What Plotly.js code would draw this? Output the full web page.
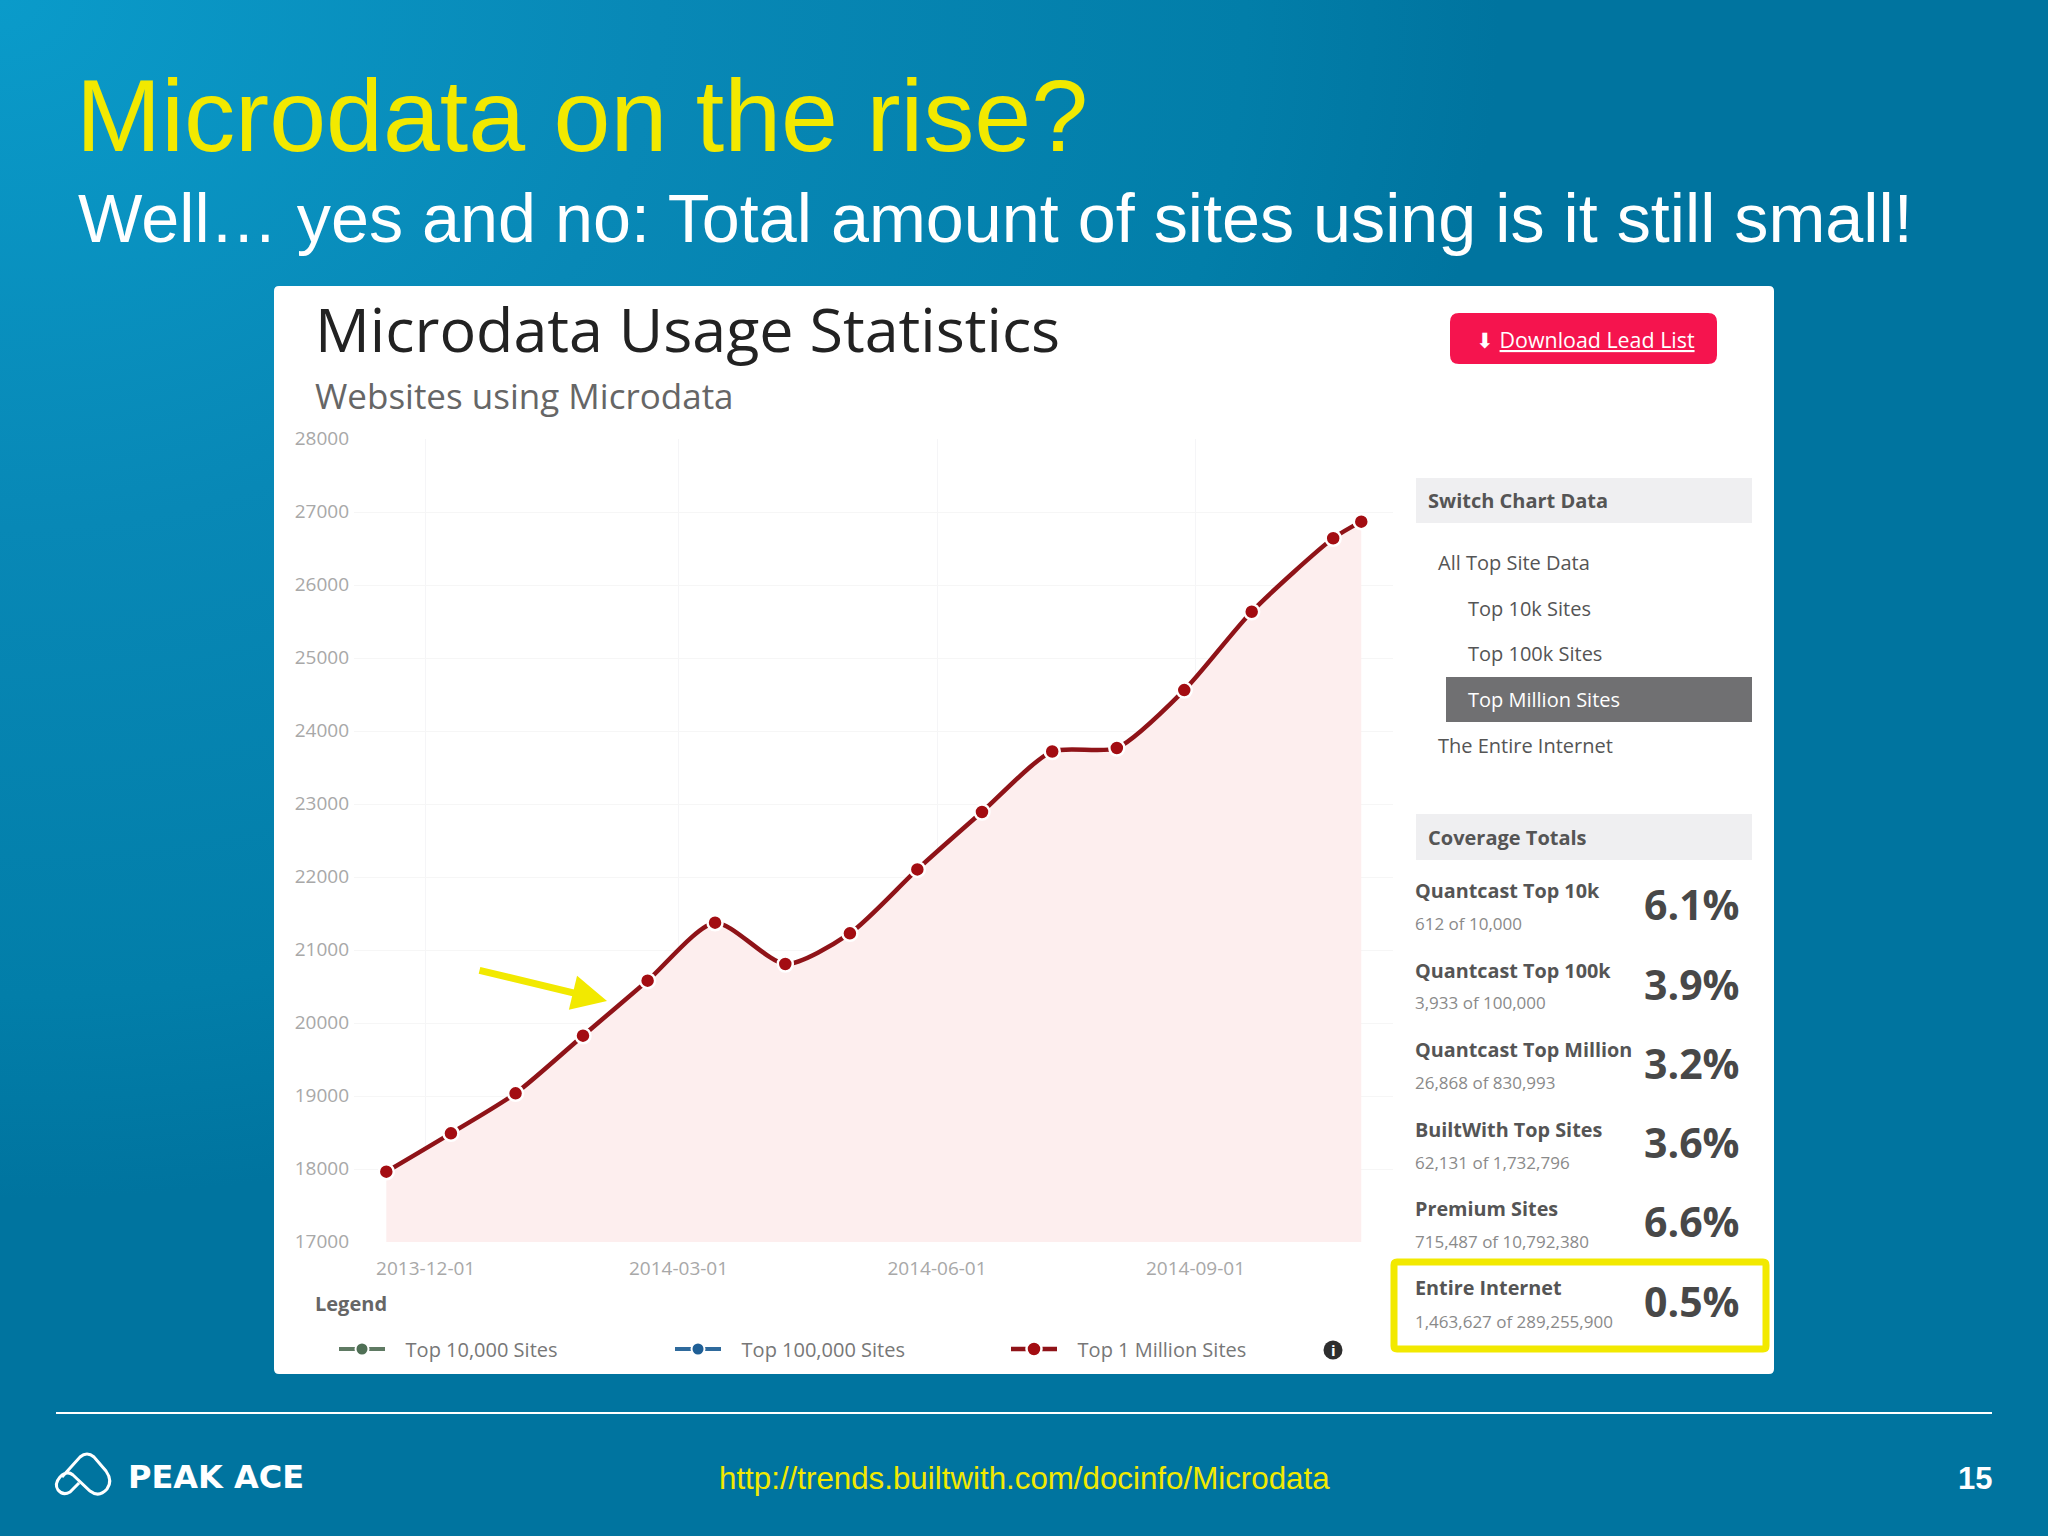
<!DOCTYPE html>
<html>
<head>
<meta charset="utf-8">
<script src="https://cdn.plot.ly/plotly-3.0.1.min.js"></script>
<style>
html,body{margin:0;padding:0;width:2048px;height:1536px;overflow:hidden;
background:radial-gradient(ellipse 1500px 1200px at 0 0,#0a9bca 0%,#0888b6 44%,#027ea9 83%,#00749f 100%),#00749f;}
#chart{width:2048px;height:1536px;}
</style>
</head>
<body>
<div id="chart"></div>
<script>
// ---- data ----
const dates = ['2013-11-17','2013-12-10','2014-01-02','2014-01-26','2014-02-18','2014-03-14','2014-04-08','2014-05-01','2014-05-25','2014-06-17','2014-07-12','2014-08-04','2014-08-28','2014-09-21','2014-10-20','2014-10-30'];
const topMillion = [17963,18489,19037,19826,20580,21374,20808,21228,22104,22890,23719,23767,24560,25634,26640,26868];
const top10k = [null];
const top100k = [null];
const seriesNames = ['Top 10,000 Sites','Top 100,000 Sites','Top 1 Million Sites'];
const yTicks = [17000,18000,19000,20000,21000,22000,23000,24000,25000,26000,27000,28000];
const xTicks = ['2013-12-01','2014-03-01','2014-06-01','2014-09-01'];
const menuGroup = ['All Top Site Data','The Entire Internet'];
const menuSub = ['Top 10k Sites','Top 100k Sites','Top Million Sites'];
const coverageNames = ['Quantcast Top 10k','Quantcast Top 100k','Quantcast Top Million','BuiltWith Top Sites','Premium Sites','Entire Internet'];
const coverageCounts = ['612 of 10,000','3,933 of 100,000','26,868 of 830,993','62,131 of 1,732,796','715,487 of 10,792,380','1,463,627 of 289,255,900'];
const coveragePct = ['6.1%','3.9%','3.2%','3.6%','6.6%','0.5%'];

// ---- helpers ----
const W = 2048, H = 1536;
const L = 354, R = 1393, TOP = 439, BOT = 1242;
const px = x => (x - L) / (R - L), py = y => (BOT - y) / (BOT - TOP);
const ARIAL = '"Liberation Sans", Arial, sans-serif';
const OPEN = '"Open Sans", sans-serif';
const YEL = '#f2e900';
const notes = [];
function T(text, x, y, size, color, o = {}) {
  notes.push({text, xref:'paper', yref:'paper', x:px(x), y:py(y), showarrow:false,
    xanchor:o.anchor || 'left', yanchor:'middle',
    font:{family:o.family || OPEN, size, color, weight:o.weight || 400}});
}
const shapes = [];
function rect(x0, y0, x1, y1, fill) {
  shapes.push({type:'rect', xref:'paper', yref:'paper', x0:px(x0), x1:px(x1), y0:py(y0), y1:py(y1),
    fillcolor:fill, line:{width:0}, layer:'below'});
}
function roundRect(x0, y0, x1, y1, r, fill, lineColor, lw) {
  const P = (x, y) => px(x) + ',' + py(y);
  const path = 'M' + P(x0 + r, y0) + ' L' + P(x1 - r, y0) + ' Q' + P(x1, y0) + ' ' + P(x1, y0 + r) +
    ' L' + P(x1, y1 - r) + ' Q' + P(x1, y1) + ' ' + P(x1 - r, y1) +
    ' L' + P(x0 + r, y1) + ' Q' + P(x0, y1) + ' ' + P(x0, y1 - r) +
    ' L' + P(x0, y0 + r) + ' Q' + P(x0, y0) + ' ' + P(x0 + r, y0) + ' Z';
  shapes.push({type:'path', xref:'paper', yref:'paper', path, fillcolor:fill,
    line:{width:lw || 0, color:lineColor || 'rgba(0,0,0,0)'}, layer:'below'});
}

// ---- slide furniture ----
roundRect(274, 286, 1774, 1374, 5, '#ffffff');
roundRect(1450, 313, 1717, 364, 9, '#f5144e');
rect(1416, 478, 1752, 523, '#efeff1');
rect(1446, 677, 1752, 722, '#707072');
rect(1416, 814, 1752, 860, '#efeff1');
roundRect(1394, 1262, 1766, 1349, 3, 'rgba(0,0,0,0)', YEL, 7);
shapes.push({type:'line', xref:'paper', yref:'paper', x0:px(56), x1:px(1992), y0:py(1413), y1:py(1413),
  line:{color:'#ffffff', width:2}, layer:'below'});
shapes.push({type:'circle', xref:'paper', yref:'paper', x0:px(1323.5), x1:px(1342.5), y0:py(1340.5), y1:py(1359.5),
  fillcolor:'#2e2e2e', line:{width:0}, layer:'below'});
// logo outline
(function(){
  const P = (x, y) => px(x) + ',' + py(y);
  const path = 'M' + P(62,1477) + ' L' + P(80,1457) + ' Q' + P(87,1451) + ' ' + P(94,1457) +
    ' L' + P(106,1471) + ' Q' + P(113,1481) + ' ' + P(107,1489) + ' Q' + P(99,1498) + ' ' + P(90,1491) +
    ' L' + P(73,1475) + ' Q' + P(67,1470) + ' ' + P(60,1477) + ' Q' + P(54,1484) + ' ' + P(58,1490) +
    ' Q' + P(63,1496) + ' ' + P(70,1492) + ' L' + P(79,1483);
  shapes.push({type:'path', xref:'paper', yref:'paper', path, line:{color:'#ffffff', width:3}, layer:'below'});
})();

// ---- text ----
T('Well… yes and no: Total amount of sites using is it still small!', 76, 218, 68.3, '#ffffff', {family:ARIAL});
T('Microdata Usage Statistics', 313, 329, 61, '#222222');
T('Websites using Microdata', 313, 395, 35, '#666666');
T('⬇ <u>Download Lead List</u>', 1585, 340, 21.4, '#ffffff', {anchor:'center'});
T('Switch Chart Data', 1426, 500, 20, '#555555', {weight:700});
T(menuGroup[0], 1436, 562, 20, '#555555');
T(menuSub[0], 1466, 608, 20, '#555555');
T(menuSub[1], 1466, 653, 20, '#555555');
T(menuSub[2], 1466, 699, 20, '#ffffff');
T(menuGroup[1], 1436, 745, 20, '#555555');
T('Coverage Totals', 1426, 837, 20, '#555555', {weight:700});
const nameY = [890,970,1049,1129,1208,1287];
const countY = [923,1003,1082,1162,1241,1321];
const pctY = [904,984,1063,1142,1221,1301];
coverageNames.forEach((n, i) => {
  T(n, 1413, nameY[i], 19.8, '#555555', {weight:700});
  T(coverageCounts[i], 1413, countY[i], 17, '#8a8a8a');
  T(coveragePct[i], 1742, pctY[i], 41, '#484848', {weight:700, anchor:'right'});
});
T('Legend', 313, 1303, 20, '#666666', {weight:700});
T('i', 1333, 1350, 15, '#ffffff', {weight:700, anchor:'center'});
T('PEAK ACE', 126, 1477, 32, '#ffffff', {family:'"DejaVu Sans", sans-serif', weight:700});
T('http://trends.builtwith.com/docinfo/Microdata', 1024, 1478, 31.3, YEL, {family:ARIAL, anchor:'center'});
T('15', 1994, 1478, 31, '#ffffff', {family:ARIAL, weight:700, anchor:'right'});
// yellow call-out arrow
notes.push({text:'', xref:'paper', yref:'paper', x:px(607), y:py(1001), axref:'pixel', ayref:'pixel',
  ax:-129, ay:-31, showarrow:true, arrowhead:2, arrowsize:1, arrowwidth:7, arrowcolor:YEL});

// ---- traces ----
const LINE = {shape:'spline', smoothing:0.7};
const PAD = '\u00a0\u00a0\u00a0';
const traces = [
  {x:dates, y:topMillion, type:'scatter', mode:'lines', fill:'tozeroy', fillcolor:'#fdeeee',
   line:Object.assign({width:0, color:'#fdeeee'}, LINE), showlegend:false, hoverinfo:'skip'},
  {x:[dates[0]], y:top10k, name:PAD + seriesNames[0], type:'scatter', mode:'lines+markers',
   line:{color:'#5f7a63', width:4}, marker:{color:'#4f6f55', size:13, line:{color:'#ffffff', width:2}}},
  {x:[dates[0]], y:top100k, name:PAD + seriesNames[1], type:'scatter', mode:'lines+markers',
   line:{color:'#2f6a9c', width:4}, marker:{color:'#1f5f96', size:13, line:{color:'#ffffff', width:2}}},
  {x:dates, y:topMillion, name:PAD + seriesNames[2], type:'scatter', mode:'lines+markers',
   line:Object.assign({width:4.5, color:'#8f1318'}, LINE),
   marker:{color:'#a30d12', size:15, line:{color:'#ffffff', width:2.5}}}
];

const layout = {
  width:W, height:H,
  paper_bgcolor:'rgba(0,0,0,0)', plot_bgcolor:'rgba(0,0,0,0)',
  margin:{l:L, r:W-R, t:TOP, b:H-BOT, pad:0},
  title:{text:'Microdata on the rise?', xref:'container', yref:'container', x:76/W, xanchor:'left',
    y:1-115/H, yanchor:'middle', font:{family:ARIAL, size:102.3, color:YEL}},
  xaxis:{type:'date', range:['2013-11-05 12:00','2014-11-10 07:00'], tickmode:'array', tickvals:xTicks, ticktext:xTicks,
    showgrid:true, gridcolor:'#f5f5f7', gridwidth:1, zeroline:false, showline:false, ticks:'',
    ticklabelstandoff:13, tickfont:{family:OPEN, size:19, color:'#a8a8a8'}},
  yaxis:{range:[17000,28000], tickmode:'array', tickvals:yTicks, ticktext:yTicks.map(String),
    showgrid:true, gridcolor:'#f6f6f6', gridwidth:1, zeroline:false, showline:false, ticks:'',
    ticklabelstandoff:4, ticklabelshift:-1, tickfont:{family:OPEN, size:19, color:'#a8a8a8'}},
  legend:{orientation:'h', x:px(334), y:py(1349), xanchor:'left', yanchor:'middle', xref:'paper', yref:'paper',
    itemwidth:46, entrywidth:275, entrywidthmode:'pixels', bgcolor:'rgba(0,0,0,0)', borderwidth:0,
    font:{family:OPEN, size:20, color:'#777777'}, itemclick:false, itemdoubleclick:false},
  shapes, annotations:notes, showlegend:true
};
Plotly.newPlot('chart', traces, layout, {displayModeBar:false, staticPlot:true});
</script>
</body>
</html>
